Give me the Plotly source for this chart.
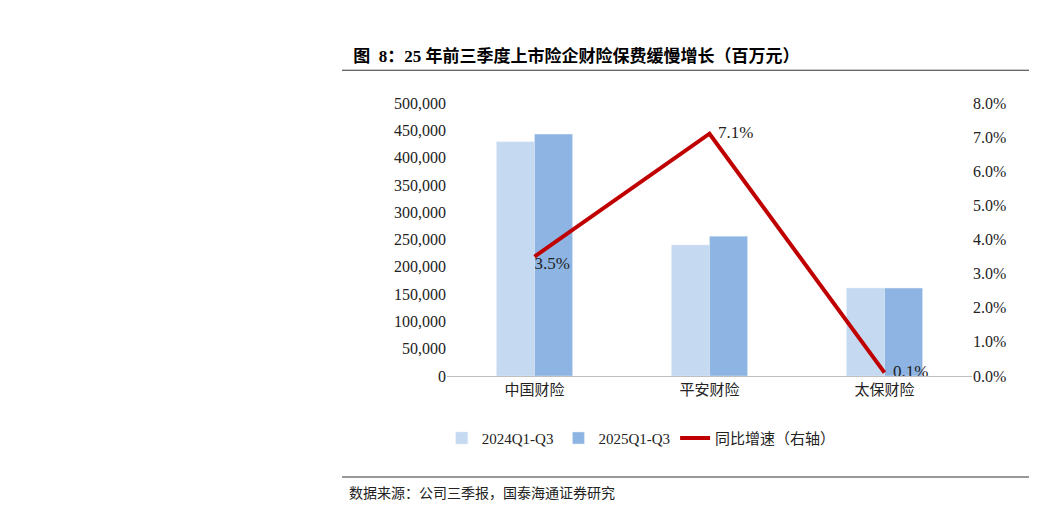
import plotly.graph_objects as go

categories = ["中国财险", "平安财险", "太保财险"]
premium_2024 = [429000, 240000, 161000]
premium_2025 = [443000, 256000, 161000]
growth = [0.035, 0.071, 0.001]
growth_labels = ["3.5%", "  7.1%", "  0.1%"]

font_main = "Liberation Serif, Noto Sans CJK SC"

fig = go.Figure()
fig.add_trace(go.Bar(x=categories, y=premium_2024, name="2024Q1-Q3",
                     marker_color="#c5d9f1"))
fig.add_trace(go.Bar(x=categories, y=premium_2025, name="2025Q1-Q3",
                     marker_color="#8db4e2"))
fig.add_trace(go.Scatter(x=categories, y=growth, name="同比增速（右轴）",
                         yaxis="y2", mode="lines+text", text=growth_labels,
                         textposition=["bottom right", "middle right", "middle right"],
                         textfont=dict(size=17, color="#222"),
                         line=dict(color="#c00000", width=4)))

fig.update_layout(
    width=1037, height=506,
    paper_bgcolor="white", plot_bgcolor="white",
    margin=dict(l=439, r=73, t=95, b=138),
    font=dict(family=font_main, size=16, color="#222"),
    barmode="group", bargap=0.565, bargroupgap=0,
    xaxis=dict(showline=True, linecolor="#bfbfbf", ticks="", tickfont=dict(size=15)),
    yaxis=dict(range=[0, 500000], dtick=50000, tickformat=",", showgrid=False,
               ticks="", zeroline=False),
    yaxis2=dict(range=[0, 0.08], dtick=0.01, tickformat=".1%", overlaying="y",
                side="right", showgrid=False, zeroline=False),
    legend=dict(orientation="h", x=-0.01, y=-0.228, xanchor="left", yanchor="middle",
                font=dict(size=15)),
    showlegend=True,
    title=dict(text="<b>图  8：25 年前三季度上市险企财险保费缓慢增长（百万元）</b>",
               x=0.333, xanchor="left", y=0.905, yanchor="middle",
               font=dict(size=17, color="#000")),
    shapes=[
        dict(type="line", xref="paper", yref="paper", x0=-0.2, x1=1.12,
             y0=1.12, y1=1.12, line=dict(color="#333", width=1)),
        dict(type="line", xref="paper", yref="paper", x0=-0.2, x1=1.12,
             y0=-0.37, y1=-0.37, line=dict(color="#333", width=1)),
    ],
    annotations=[
        dict(text="数据来源：公司三季报，国泰海通证券研究", xref="paper", yref="paper",
             x=-0.19, y=-0.43, xanchor="left", yanchor="middle", showarrow=False,
             font=dict(size=14, color="#222")),
    ],
)

fig.write_html("out.html")
